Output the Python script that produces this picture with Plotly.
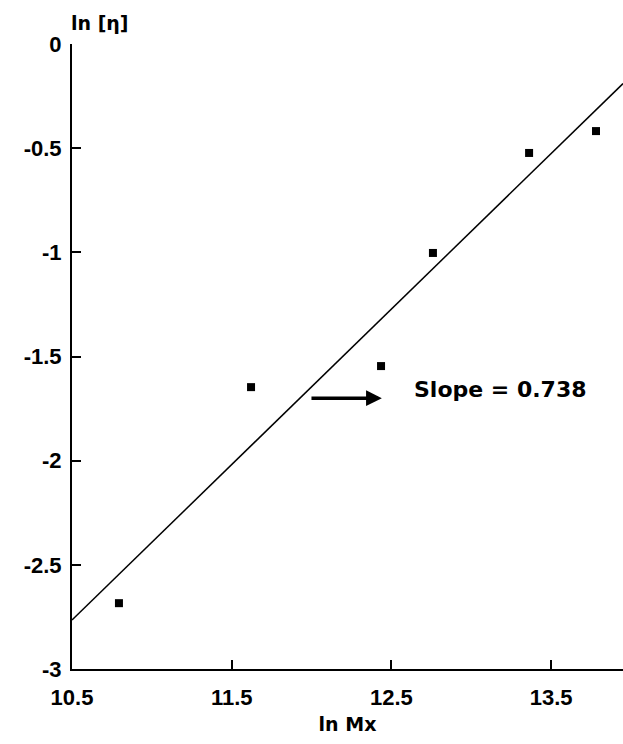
import plotly.graph_objects as go

# Data
ln_mx = [10.794, 11.621, 12.435, 12.760, 13.362, 13.781]
ln_eta = [-2.684, -1.647, -1.546, -1.003, -0.523, -0.418]

fit_x = [10.5, 13.95]
fit_y = [-2.765, -0.19]

x_ticks = [10.5, 11.5, 12.5, 13.5]
x_tick_text = ["10.5", "11.5", "12.5", "13.5"]
y_ticks = [0, -0.5, -1, -1.5, -2, -2.5, -3]
y_tick_text = ["0", "-0.5", "-1", "-1.5", "-2", "-2.5", "-3"]

arrow_tail = (11.99, -1.70)
arrow_head = (12.44, -1.70)
slope_label_pos = (12.63, -1.656)
slope_label = "Slope = 0.738"

fig = go.Figure()
fig.add_trace(go.Scatter(x=fit_x, y=fit_y, mode="lines",
                         line=dict(color="black", width=1.5),
                         showlegend=False, hoverinfo="skip"))
fig.add_trace(go.Scatter(x=ln_mx, y=ln_eta, mode="markers",
                         marker=dict(symbol="square", size=8, color="black"),
                         showlegend=False))

fig.add_annotation(x=arrow_head[0], y=arrow_head[1], ax=arrow_tail[0], ay=arrow_tail[1],
                   xref="x", yref="y", axref="x", ayref="y", text="",
                   showarrow=True, arrowhead=2, arrowsize=0.9, arrowwidth=3.5,
                   arrowcolor="black")
fig.add_annotation(x=slope_label_pos[0], y=slope_label_pos[1], xref="x", yref="y",
                   text=slope_label, showarrow=False, xanchor="left", yanchor="middle",
                   font=dict(family="DejaVu Sans", size=22, color="black", weight="bold"))
fig.add_annotation(x=0, y=1, xref="paper", yref="paper", yshift=8,
                   text="ln [η]", showarrow=False, xanchor="left", yanchor="bottom",
                   xshift=-3,
                   font=dict(family="DejaVu Sans", size=19, color="black", weight="bold"))

axis_font = dict(family="Liberation Sans", size=22, color="black", weight="bold")
fig.update_xaxes(range=[10.5, 13.95], tickvals=x_ticks, ticktext=x_tick_text,
                 showline=True, linecolor="black", linewidth=2, mirror=False,
                 ticks="inside", ticklen=9, tickwidth=1.5, tickcolor="black",
                 showgrid=False, zeroline=False, tickfont=axis_font,
                 ticklabelstandoff=8,
                 title=dict(text="ln Mx", standoff=8,
                            font=dict(family="DejaVu Sans", size=19, color="black", weight="bold")))
fig.update_yaxes(range=[-3, 0], tickvals=y_ticks, ticktext=y_tick_text,
                 showline=True, linecolor="black", linewidth=2, mirror=False,
                 ticks="inside", ticklen=9, tickwidth=1.5, tickcolor="black",
                 showgrid=False, zeroline=False, tickfont=axis_font,
                 ticklabelstandoff=4)

fig.update_layout(width=623, height=744, plot_bgcolor="white", paper_bgcolor="white",
                  margin=dict(l=72, r=0, t=44, b=75, autoexpand=False))

fig.write_html("out.html", config={"displayModeBar": False},
               post_script="document.body.style.margin='0';")
